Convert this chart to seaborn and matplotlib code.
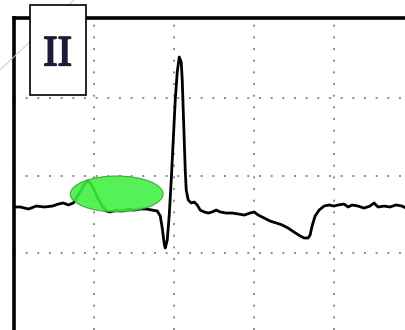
import numpy as np
import pandas as pd
import seaborn as sns
import matplotlib.pyplot as plt
import matplotlib.patheffects as pe
from matplotlib.patches import Ellipse, Rectangle
from matplotlib.lines import Line2D

# lead II trace, time in ms, amplitude in mV
time_ms = [0, 15, 35, 55, 75, 95, 110, 122.5, 135, 147.5, 160, 172.5, 182.5, 190, 200,
           210, 220, 230, 240, 255, 270, 285, 300, 315, 330, 345, 357.5, 365, 370, 375,
           377.5, 382.5, 387.5, 392.5, 397.5, 402.5, 407.5, 412.5, 417.5, 420, 422.5, 425,
           427.5, 430, 435, 442.5, 450, 457.5, 465, 475, 485, 495, 505, 515, 530, 545,
           560, 575, 590, 600, 610, 625, 640, 655, 670, 685, 700, 715, 725, 735, 740,
           745, 752.5, 762.5, 775, 787.5, 800, 810, 825, 835, 845, 860, 875, 890, 900,
           910, 925, 940, 955, 970, 980]
amp_mv = [0.297, 0.297, 0.284, 0.303, 0.297, 0.303, 0.316, 0.323, 0.310, 0.323, 0.374,
          0.432, 0.465, 0.452, 0.406, 0.348, 0.303, 0.271, 0.265, 0.277, 0.271, 0.284,
          0.277, 0.284, 0.284, 0.277, 0.271, 0.239, 0.161, 0.058, 0.032, 0.084, 0.245,
          0.471, 0.729, 0.987, 1.168, 1.265, 1.232, 1.116, 0.923, 0.729, 0.535, 0.406,
          0.342, 0.323, 0.329, 0.310, 0.277, 0.265, 0.258, 0.265, 0.277, 0.265, 0.258,
          0.258, 0.252, 0.245, 0.258, 0.265, 0.245, 0.226, 0.206, 0.194, 0.181, 0.161,
          0.135, 0.110, 0.097, 0.097, 0.116, 0.174, 0.239, 0.277, 0.303, 0.310, 0.303,
          0.310, 0.316, 0.297, 0.310, 0.303, 0.290, 0.303, 0.323, 0.297, 0.303, 0.297,
          0.310, 0.303, 0.290]

grid_x = [200, 400, 600, 800]
grid_y = [0.0, 0.5, 1.0]

# highlighted P wave region
p_center = (256, 0.381)
p_width = 232
p_height = 0.232

lead_label = "II"

df = pd.DataFrame({"t": time_ms, "mv": amp_mv})

sns.set_style("white")
fig = plt.figure(figsize=(4.06, 3.30), dpi=100)
ax = fig.add_axes([0.0355, 0.0, 0.9645, 0.945])

sns.lineplot(x="t", y="mv", data=df, ax=ax, color="black", linewidth=2.0,
             sort=False, estimator=None, zorder=3)

ax.add_patch(Ellipse(p_center, p_width, p_height, facecolor="#3ef03e",
                     edgecolor="#3a9a3a", linewidth=0.8, alpha=0.88, zorder=4))

ax.set_xlim(0, 980)
ax.set_ylim(-0.497, 1.516)
ax.set_xticks(grid_x)
ax.set_yticks(grid_y)
ax.grid(True, color="#8c8c8c", linestyle=(0, (1, 5)), linewidth=1.4)
ax.tick_params(length=0, labelleft=False, labelbottom=False)
ax.set_xlabel("")
ax.set_ylabel("")
for side in ["right", "bottom"]:
    ax.spines[side].set_visible(False)
for side in ["left", "top"]:
    ax.spines[side].set_linewidth(2.6)
    ax.spines[side].set_color("black")

# faint stray line behind the label box
fig.add_artist(Line2D([0.0, 74 / 406], [1 - 70 / 330, 1.0], color="#b4d0ee",
                      linewidth=0.7, transform=fig.transFigure, zorder=5))

fig.add_artist(Rectangle((30 / 406, 1 - 95 / 330), 56 / 406, 90 / 330,
                         transform=fig.transFigure, facecolor="white",
                         edgecolor="black", linewidth=1.2, zorder=6))
fig.text(57.5 / 406, 1 - 55 / 330, lead_label, family="Liberation Serif",
         fontsize=31, color="#1c1c38", ha="center", va="center", zorder=7,
         path_effects=[pe.withStroke(linewidth=1.3, foreground="#1c1c38")])

fig.savefig("out.png", dpi=100)
